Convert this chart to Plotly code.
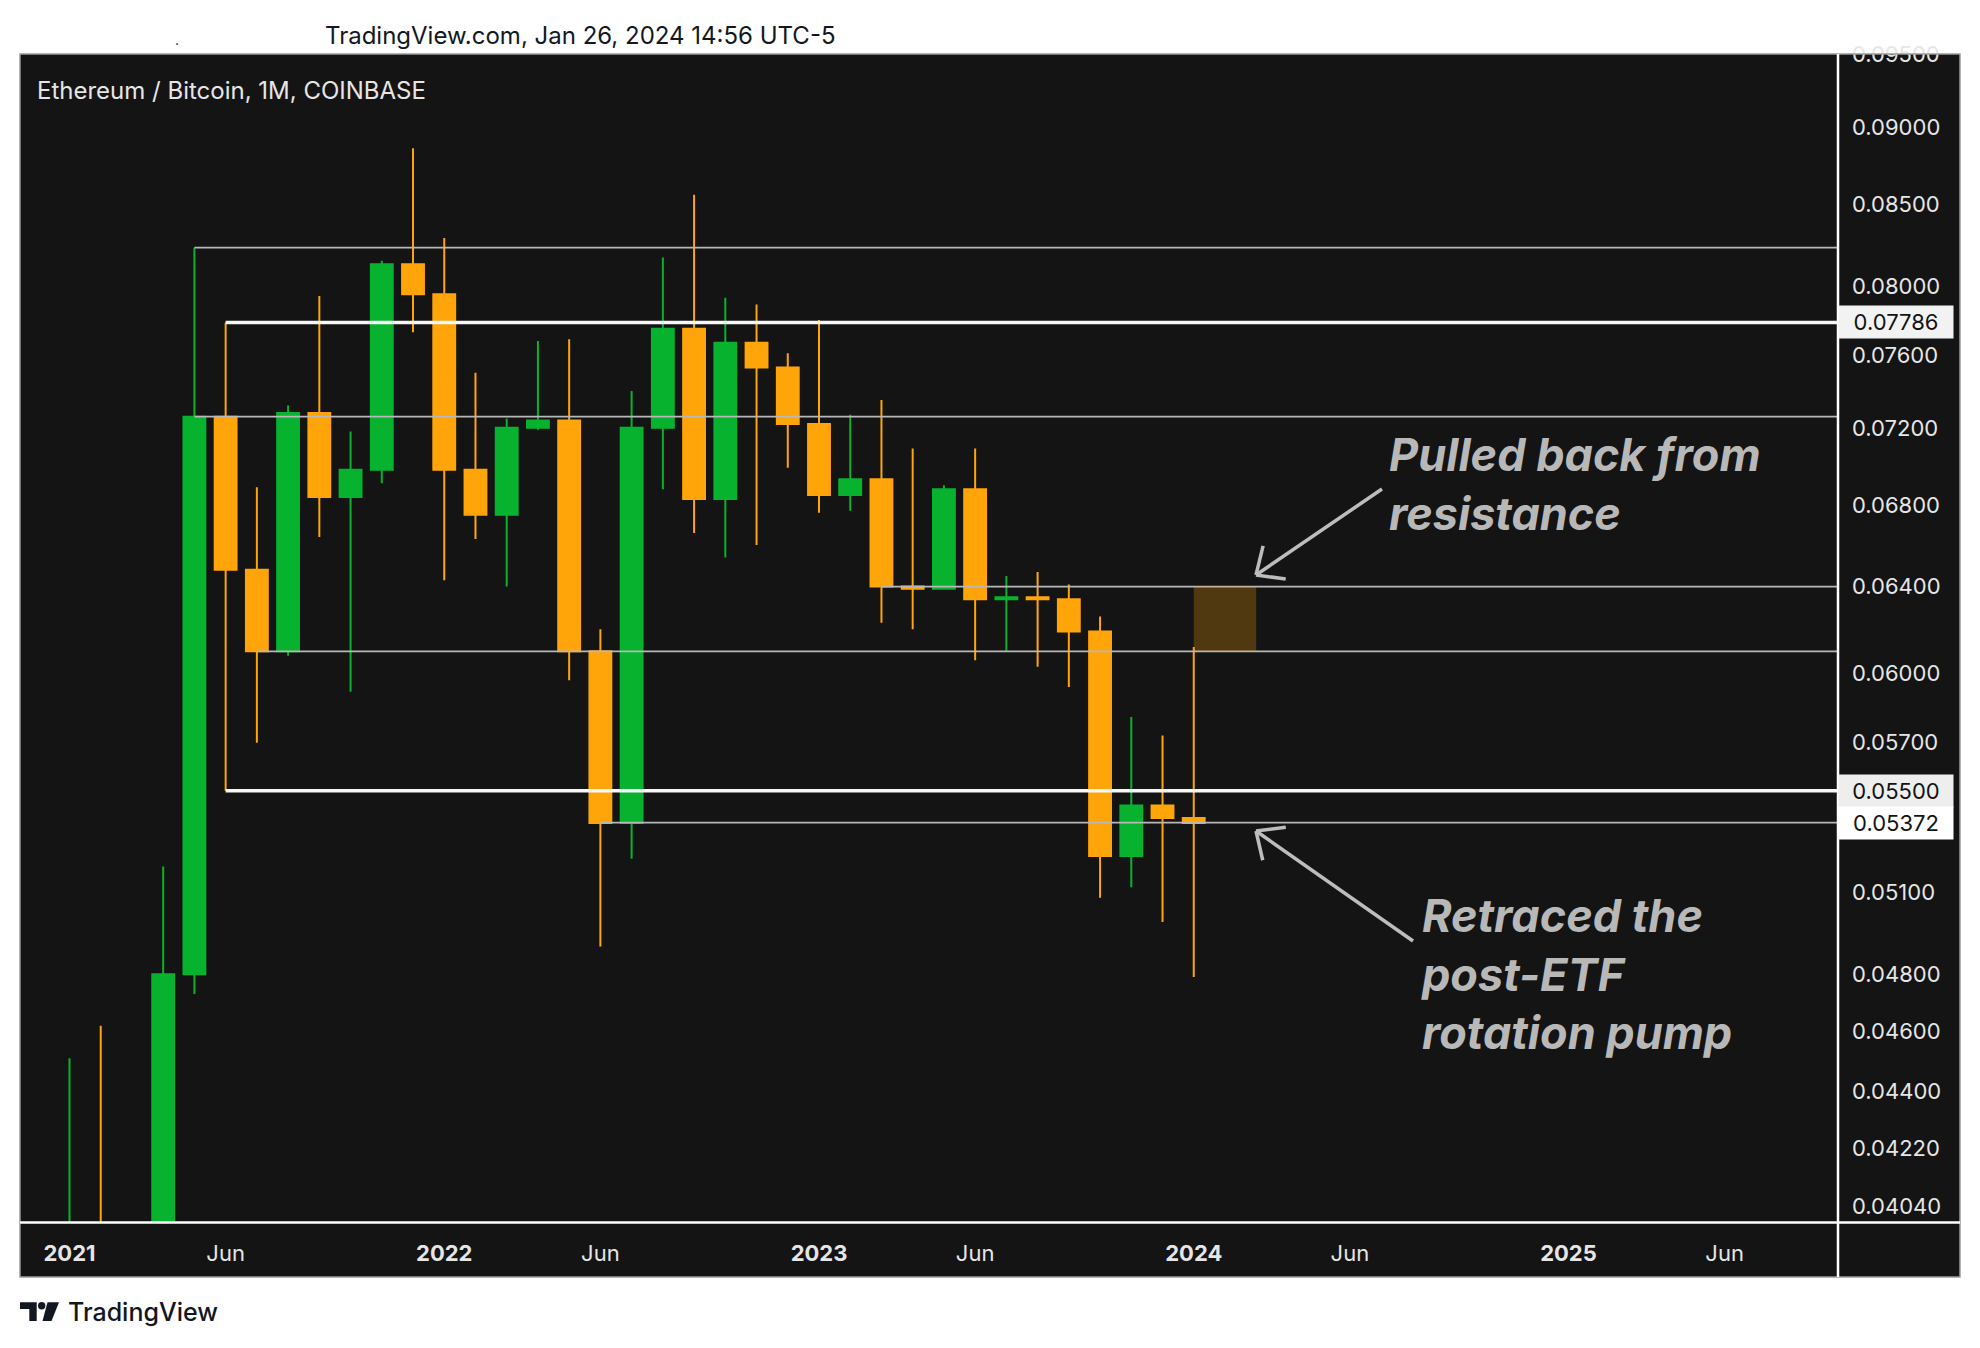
import math
import plotly.graph_objects as go

# ETH/BTC monthly candles (Coinbase)
months = ["2021-01", "2021-02", "2021-03", "2021-04", "2021-05", "2021-06", "2021-07",
          "2021-08", "2021-09", "2021-10", "2021-11", "2021-12", "2022-01", "2022-02",
          "2022-03", "2022-04", "2022-05", "2022-06", "2022-07", "2022-08", "2022-09",
          "2022-10", "2022-11", "2022-12", "2023-01", "2023-02", "2023-03", "2023-04",
          "2023-05", "2023-06", "2023-07", "2023-08", "2023-09", "2023-10", "2023-11",
          "2023-12", "2024-01"]
opens = [0.0252, 0.0392, 0.0316, 0.0330, 0.0480, 0.0726, 0.0648, 0.0610, 0.0728, 0.0684,
         0.0698, 0.0813, 0.0795, 0.0698, 0.0675, 0.0720, 0.0724, 0.0610, 0.0537, 0.0720,
         0.0775, 0.0683, 0.0767, 0.0753, 0.0722, 0.0685, 0.0693, 0.0640, 0.0639, 0.0688,
         0.0634, 0.0635, 0.0634, 0.0619, 0.0524, 0.0544, 0.0539]
highs = [0.0451, 0.0462, 0.0352, 0.0520, 0.0823, 0.07786, 0.0689, 0.0732, 0.0794, 0.0718,
         0.0815, 0.0886, 0.0829, 0.0750, 0.0725, 0.0768, 0.0769, 0.0620, 0.0740, 0.0817,
         0.0856, 0.0793, 0.0789, 0.0761, 0.0780, 0.0727, 0.0735, 0.0709, 0.0690, 0.0709,
         0.0645, 0.0647, 0.0641, 0.0626, 0.0581, 0.0573, 0.0612]
lows = [0.0245, 0.0305, 0.0287, 0.0318, 0.0473, 0.0550, 0.0570, 0.0608, 0.0664, 0.0592,
        0.0691, 0.0773, 0.0643, 0.0663, 0.0640, 0.0719, 0.0597, 0.0490, 0.0523, 0.0688,
        0.0666, 0.0654, 0.0660, 0.0699, 0.0676, 0.0677, 0.0623, 0.0620, 0.0639, 0.0606,
        0.0610, 0.0603, 0.0594, 0.0508, 0.0512, 0.0499, 0.0479]
closes = [0.0392, 0.0316, 0.0330, 0.0480, 0.0726, 0.0648, 0.0610, 0.0728, 0.0684, 0.0698,
          0.0813, 0.0795, 0.0698, 0.0675, 0.0720, 0.0724, 0.0610, 0.0537, 0.0720, 0.0775,
          0.0683, 0.0767, 0.0753, 0.0722, 0.0685, 0.0693, 0.0640, 0.0639, 0.0688, 0.0634,
          0.0635, 0.0634, 0.0619, 0.0524, 0.0544, 0.0539, 0.0537]

# drawn levels
minor_levels = [0.0823, 0.0726, 0.0640, 0.0610, 0.05372]
minor_starts = ["2021-05", "2021-05", "2023-03", "2021-07", "2022-06"]
major_levels = [0.07786, 0.0550]
major_starts = ["2021-06", "2021-06"]

zone_months = ["2024-01", "2024-03"]
zone_prices = [0.0610, 0.0640]

price_ticks = [0.095, 0.090, 0.085, 0.080, 0.076, 0.072, 0.068, 0.064, 0.060, 0.057,
               0.051, 0.048, 0.046, 0.044, 0.0422, 0.0404]
time_ticks = ["2021-01", "2021-06", "2022-01", "2022-06", "2023-01", "2023-06",
              "2024-01", "2024-06", "2025-01", "2025-06"]
time_labels = ["<b>2021</b>", "Jun", "<b>2022</b>", "Jun", "<b>2023</b>", "Jun",
               "<b>2024</b>", "Jun", "<b>2025</b>", "Jun"]

price_marks = [0.07786, 0.05500, 0.05372]
price_mark_bg = ["#f2f2f2", "#eeeeee", "#ffffff"]

GREEN = "#07b22f"
ORANGE = "#ffa50a"
BG = "#141414"
FONT = "Inter"


def month_index(m):
    y, mo = m.split("-")
    return (int(y) - 2021) * 12 + int(mo) - 1


# page body adds 8px, so the figure is drawn 8px smaller/shifted
W, H = 1972, 1340
L, R, T, B = 12, 142, 46, 126
PW, PH = W - L - R, H - T - B
X0, Y1 = 20, 1222   # plot corner in screenshot pixels


def px(xp):
    return (xp - X0) / PW


def py(yp):
    return (Y1 - yp) / PH


x = [month_index(m) for m in months]

fig = go.Figure()

# levels under the candles
for lv, st in zip(minor_levels, minor_starts):
    fig.add_trace(go.Scatter(x=[month_index(st), 80], y=[lv, lv], mode="lines",
                             line=dict(color="#b8b8b8", width=1.7),
                             hoverinfo="skip", showlegend=False))
for lv, st in zip(major_levels, major_starts):
    fig.add_trace(go.Scatter(x=[month_index(st), 80], y=[lv, lv], mode="lines",
                             line=dict(color="#f7f7f7", width=3.5),
                             hoverinfo="skip", showlegend=False))

z0, z1 = month_index(zone_months[0]), month_index(zone_months[1])
fig.add_trace(go.Scatter(x=[z0, z1, z1, z0, z0],
                         y=[zone_prices[0], zone_prices[0], zone_prices[1], zone_prices[1], zone_prices[0]],
                         mode="lines", fill="toself", fillcolor="rgba(255,166,10,0.26)",
                         line=dict(width=0), hoverinfo="skip", showlegend=False))

fig.add_trace(go.Candlestick(
    x=x, open=opens, high=highs, low=lows, close=closes,
    increasing=dict(line=dict(color=GREEN, width=2), fillcolor=GREEN),
    decreasing=dict(line=dict(color=ORANGE, width=2), fillcolor=ORANGE),
    whiskerwidth=0, hoverinfo="skip", showlegend=False))

shapes = []
# dark panel incl. axis strips
shapes.append(dict(type="rect", xref="paper", yref="paper", layer="below",
                   x0=px(20), x1=px(1960), y0=py(1277), y1=py(54),
                   fillcolor=BG, line=dict(width=0)))
shapes.append(dict(type="rect", xref="paper", yref="paper",
                   x0=px(20), x1=px(1960), y0=py(1277), y1=py(54),
                   line=dict(color="#9a9a9a", width=1.5)))
shapes.append(dict(type="line", xref="paper", yref="paper",
                   x0=px(20), x1=px(1960), y0=py(1222.5), y1=py(1222.5),
                   line=dict(color="#ffffff", width=2.5)))
shapes.append(dict(type="line", xref="paper", yref="paper",
                   x0=px(1838), x1=px(1838), y0=py(1277), y1=py(54),
                   line=dict(color="#ffffff", width=2.5)))


def add_arrow(tail, tip, color="#bdbdbd", width=3.5, arm=30, ang=42):
    shapes.append(dict(type="line", xref="paper", yref="paper",
                       x0=px(tail[0]), y0=py(tail[1]), x1=px(tip[0]), y1=py(tip[1]),
                       line=dict(color=color, width=width)))
    dx, dy = tail[0] - tip[0], tail[1] - tip[1]
    base = math.atan2(dy, dx)
    for s in (-1, 1):
        a = base + s * math.radians(ang)
        ex, ey = tip[0] + arm * math.cos(a), tip[1] + arm * math.sin(a)
        shapes.append(dict(type="line", xref="paper", yref="paper",
                           x0=px(tip[0]), y0=py(tip[1]), x1=px(ex), y1=py(ey),
                           line=dict(color=color, width=width)))


add_arrow((1382, 489), (1256, 575))
add_arrow((1413, 941), (1256, 831))

# TradingView logo glyph
def poly(pts):
    return "M " + " L ".join(f"{px(a):.5f},{py(b):.5f}" for a, b in pts) + " Z"


LOGO = "#131722"
shapes.append(dict(type="path", xref="paper", yref="paper",
                   path=poly([(20, 1302.3), (36.7, 1302.3), (36.7, 1321), (29.3, 1321),
                              (29.3, 1309), (20, 1309)]),
                   fillcolor=LOGO, line=dict(width=0)))
shapes.append(dict(type="circle", xref="paper", yref="paper",
                   x0=px(38), x1=px(45.4), y0=py(1309.4), y1=py(1302),
                   fillcolor=LOGO, line=dict(width=0)))
shapes.append(dict(type="path", xref="paper", yref="paper",
                   path=poly([(47.5, 1302.3), (59, 1302.3), (51.5, 1321), (42.5, 1321)]),
                   fillcolor=LOGO, line=dict(width=0)))

ann = []
ann.append(dict(text="TradingView.com, Jan 26, 2024 14:56 UTC-5", xref="paper", yref="paper",
                x=px(580), y=py(36), xanchor="center", yanchor="middle", showarrow=False,
                font=dict(family=FONT, size=24, color="#131722")))
ann.append(dict(text=".", xref="paper", yref="paper", x=px(177), y=py(40),
                xanchor="center", yanchor="middle", showarrow=False,
                font=dict(family=FONT, size=14, color="#131722")))
ann.append(dict(text="Ethereum / Bitcoin, 1M, COINBASE", xref="paper", yref="paper",
                x=px(35), y=py(90), xanchor="left", yanchor="middle", showarrow=False,
                font=dict(family=FONT, size=24, color="#e6e6e6")))
ann.append(dict(text="TradingView", xref="paper", yref="paper",
                x=px(66), y=py(1312), xanchor="left", yanchor="middle", showarrow=False,
                font=dict(family=FONT, size=25, color=LOGO, weight=500)))

note_font = dict(family=FONT, size=45, color="#b8b8b8", weight=700, style="italic")
for txt, xx, yy in [("Pulled back from<br>resistance", 1387, 484),
                    ("Retraced the<br>post-ETF<br>rotation pump", 1419, 974)]:
    ann.append(dict(text=txt, xref="paper", yref="paper", x=px(xx), y=py(yy),
                    xanchor="left", yanchor="middle", align="left", showarrow=False,
                    font=note_font))

for pm, bg in zip(price_marks, price_mark_bg):
    ann.append(dict(text=f"{pm:.5f}", xref="paper", yref="y", x=1.0, y=math.log10(pm),
                    xanchor="left", yanchor="middle", showarrow=False,
                    width=100, height=18, borderpad=7, bgcolor=bg, align="center",
                    font=dict(family=FONT, size=22, color="#131313")))

fig.update_layout(
    width=W, height=H, margin=dict(l=L, r=R, t=T, b=B),
    paper_bgcolor="#ffffff", plot_bgcolor=BG,
    template="none", showlegend=False, hovermode=False,
    shapes=shapes, annotations=ann,
    boxgap=0.3, boxgroupgap=0,
    font=dict(family=FONT),
)
fig.update_xaxes(
    range=[-1.585, 56.63], rangeslider_visible=False, automargin=False,
    showgrid=False, zeroline=False, showline=False,
    tickmode="array", tickvals=[month_index(t) for t in time_ticks], ticktext=time_labels,
    ticks="", ticklabelstandoff=16,
    tickfont=dict(family=FONT, size=22, color="#e6e6e6"),
)
fig.update_yaxes(
    type="log", side="right", automargin=False,
    range=[math.log10(0.03994), math.log10(0.09502)],
    showgrid=False, zeroline=False, showline=False,
    tickmode="array", tickvals=price_ticks, ticktext=[f"{v:.5f}" for v in price_ticks],
    ticks="", ticklabelstandoff=13,
    tickfont=dict(family=FONT, size=22, color="#e6e6e6"),
)

fig.write_html("out.html")
